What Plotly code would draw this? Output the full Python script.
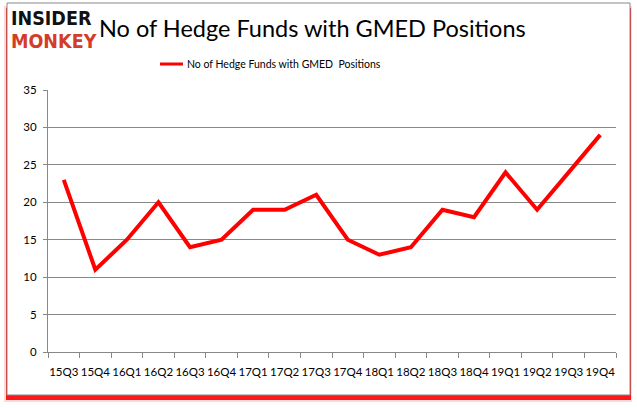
import plotly.graph_objects as go

quarters = ["15Q3", "15Q4", "16Q1", "16Q2", "16Q3", "16Q4", "17Q1", "17Q2", "17Q3",
            "17Q4", "18Q1", "18Q2", "18Q3", "18Q4", "19Q1", "19Q2", "19Q3", "19Q4"]
funds = [23, 11, 15, 20, 14, 15, 19, 19, 21, 15, 13, 14, 19, 18, 24, 19, 24, 29]
y_ticks = [0, 5, 10, 15, 20, 25, 30, 35]
series_name = "No of Hedge Funds with GMED  Positions"
title_text = "No of Hedge Funds with GMED Positions"

W, H = 637, 408
L, R, T, B = 48, 616, 90, 352

def px(x):
    return (x - L) / (R - L)

def py(y):
    return (B - y) / (B - T)

fig = go.Figure()
fig.add_trace(go.Scatter(x=quarters, y=funds, mode="lines", name=series_name,
                         line=dict(color="#ff0000", width=4), showlegend=False))

shapes = []
# shadow
shapes.append(dict(type="rect", xref="paper", yref="paper", x0=px(4), x1=px(632), y0=py(402), y1=py(6),
                   fillcolor="rgba(255,0,0,0.15)", line=dict(width=0), layer="below"))
shapes.append(dict(type="rect", xref="paper", yref="paper", x0=px(6), x1=px(631), y0=py(400), y1=py(8),
                   fillcolor="rgba(255,0,0,0.9)", line=dict(width=0), layer="below"))
# frame
shapes.append(dict(type="rect", xref="paper", yref="paper", x0=px(7), x1=px(630), y0=py(395), y1=py(3),
                   fillcolor="white", line=dict(color="#888888", width=1), layer="below"))
# legend line
shapes.append(dict(type="line", xref="paper", yref="paper", x0=px(160), x1=px(183), y0=py(64), y1=py(64),
                   line=dict(color="#ff0000", width=3)))
fig.update_layout(shapes=shapes)

ann = []
ann.append(dict(text="<b>INSIDER</b>", x=px(9), y=py(19), xref="paper", yref="paper", xanchor="left",
                yanchor="middle", showarrow=False,
                font=dict(family="DejaVu Sans Condensed, DejaVu Sans", size=19.5, color="#111111")))
ann.append(dict(text="<b>MONKEY</b>", x=px(9), y=py(42), xref="paper", yref="paper", xanchor="left",
                yanchor="middle", showarrow=False,
                font=dict(family="DejaVu Sans Condensed, DejaVu Sans", size=19.5, color="#d33d28")))
ann.append(dict(text=title_text, x=px(312), y=py(28), xref="paper", yref="paper", xanchor="center",
                yanchor="middle", showarrow=False,
                font=dict(family="Lato", size=23.5, color="#000000")))
ann.append(dict(text=series_name, x=px(185), y=py(64), xref="paper", yref="paper", xanchor="left",
                yanchor="middle", showarrow=False,
                font=dict(family="Lato", size=10.5, color="#000000")))
fig.update_layout(annotations=ann)

fig.update_xaxes(type="category", showline=True, linecolor="#888888", linewidth=1,
                 ticks="outside", tickson="boundaries", ticklen=5, tickcolor="#888888",
                 showgrid=False, tickfont=dict(family="Lato", size=11.5, color="#000000"),
                 range=[-0.5, 17.5], tickangle=0, automargin=False, ticklabelstandoff=9)
fig.update_yaxes(range=[0, 35], tickvals=y_ticks, showline=True, linecolor="#888888", linewidth=1,
                 ticks="outside", ticklen=4, tickcolor="#888888", showgrid=True,
                 gridcolor="#888888", gridwidth=1, zeroline=False, automargin=False,
                 ticklabelstandoff=4,
                 tickfont=dict(family="Lato", size=11.5, color="#000000"))

fig.update_layout(width=W, height=H, margin=dict(l=L, r=W - R, t=T, b=H - B),
                  paper_bgcolor="white", plot_bgcolor="rgba(0,0,0,0)", showlegend=False)

fig.write_html("out.html", config={"displayModeBar": False},
               post_script="document.body.style.margin='0';")
